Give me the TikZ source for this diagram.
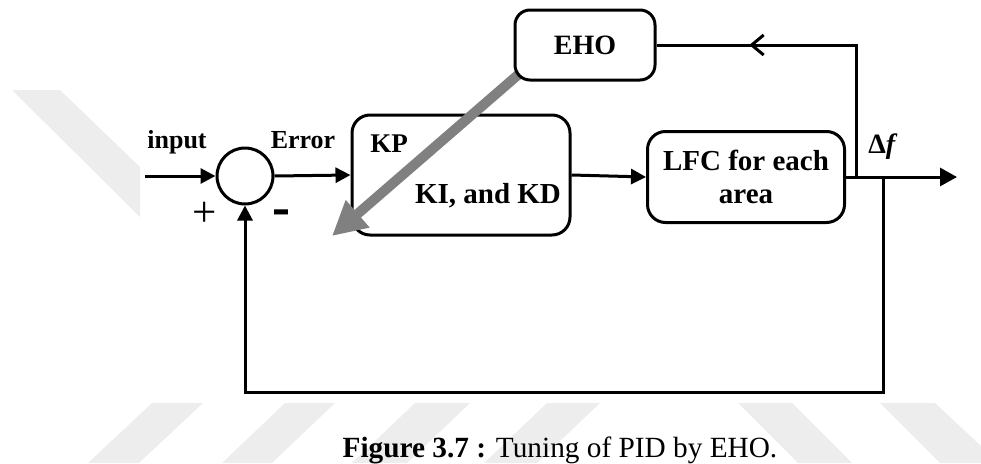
\documentclass[tikz,border=0pt]{standalone}
\usepackage{fontspec}
\setmainfont{Liberation Serif}
\usetikzlibrary{arrows.meta,decorations.markings}
\begin{document}
\begin{tikzpicture}[x=1pt,y=-1pt,
  blk/.style={draw,line width=3pt,rounded corners=18pt,inner sep=0pt,fill=white},
  lbl/.style={inner sep=0pt,anchor=base,font=\bfseries\fontsize{26}{30}\selectfont},
  wire/.style={line width=3pt},
  tip/.style={-{Triangle[length=15pt,width=15pt]}},
  wm/.style={fill=black!7,draw=none}]
\useasboundingbox (0,0) rectangle (981,463);
% faint watermark
\fill[wm] (12,90) -- (60,90) -- (140,167) -- (140,217) -- cycle;
\fill[wm] (152,403) -- (203,403) -- (139,463) -- (88,463) -- cycle;
\fill[wm] (285,403) -- (335,403) -- (272,463) -- (222,463) -- cycle;
\fill[wm] (415,403) -- (470,403) -- (407,463) -- (352,463) -- cycle;
\fill[wm] (547,403) -- (600,403) -- (537,463) -- (484,463) -- cycle;
\fill[wm] (738,403) -- (792,403) -- (852,463) -- (798,463) -- cycle;
\fill[wm] (880,403) -- (935,403) -- (981,446) -- (981,463) -- (940,463) -- cycle;
% blocks
\node[draw,circle,line width=3pt,minimum size=56pt,inner sep=0pt] (sum) at (245,176) {};
\node[blk,minimum width=218pt,minimum height=120pt] (pid) at (461,175) {};
\node[blk,minimum width=197pt,minimum height=91pt,align=center,
      font=\bfseries\fontsize{29}{33}\selectfont] (lfc) at (746,177) {LFC for each\\area};
% gray tuning arrow
\coordinate (gstart) at (519,74);
\coordinate (gtip) at (332,236);
\draw[line width=10pt,draw=black!50,-{Triangle[length=34pt,width=34pt]}] (gstart) -- (gtip);
\node[blk,rounded corners=15pt,minimum width=140pt,minimum height=70pt,
      font=\bfseries\fontsize{28}{30}\selectfont] (eho) at (585,45) {EHO};
% labels
\node[lbl] (inp) at (177,148) {input};
\node[lbl] (err) at (303,148) {Error};
\node[lbl,font=\bfseries\fontsize{27}{30}\selectfont] (kp) at (389,152) {KP};
\node[lbl,font=\bfseries\fontsize{29}{30}\selectfont] (kid) at (488,203) {KI, and KD};
\node[inner sep=0pt,anchor=base,font=\fontsize{43}{43}\selectfont] (plus) at (205,226) {+};
\node[inner sep=0pt,anchor=base,font=\bfseries\fontsize{40}{40}\selectfont] (minus) at (281,226) {\scalebox{1.35}[1.5]{-}};
\node[inner sep=0pt,anchor=base,font=\bfseries\fontsize{28}{30}\selectfont] (df) at (883,153) {Δ\textit{f}};
% connectors
\coordinate (in) at (145,176);
\coordinate (out) at (957,177);
\coordinate (j1) at (856,177);
\coordinate (j2) at (883,177);
\coordinate (fb) at (883,392);
\draw[wire,tip] (in) -- (sum.west);
\draw[wire,tip] (sum.east) -- (pid.west);
\draw[wire,tip] (pid.east) -- (lfc.west);
\draw[wire,-{Triangle[length=17pt,width=18pt]}] (lfc.east) -- (out);
\draw[wire,postaction={decorate},decoration={markings,
   mark=at position 0.72 with {\arrow{Straight Barb[length=12pt,width=20pt,line width=3pt]}}}]
   (j1) -- (j1 |- eho.east) -- (eho.east);
\draw[wire,tip] (j2) -- (fb) -- (sum.south |- fb) -- (sum.south);
% caption
\node[inner sep=0pt,anchor=base,font=\fontsize{29.3}{30}\selectfont] (cap) at (560,457)
  {\textbf{Figure 3.7 :} Tuning of PID by EHO.};
\end{tikzpicture}
\end{document}
